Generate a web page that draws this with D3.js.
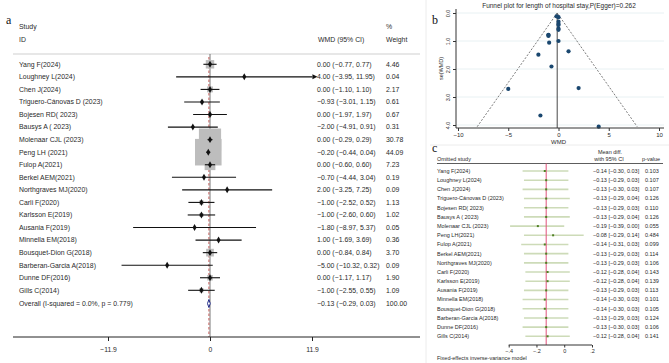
<!DOCTYPE html>
<html>
<head>
<meta charset="utf-8">
<script src="https://cdn.jsdelivr.net/npm/d3@7"></script>
<style>
  body { margin: 0; background: #fff; }
  svg { display: block; font-family: "Liberation Sans", Arial, sans-serif; }
</style>
</head>
<body>
<svg id="chart" width="669" height="363"></svg>
<script>
// panel a: forest plot
const studies = ["Yang F(2024)", "Loughney L(2024)", "Chen J(2024)", "Triguero-Cánovas D (2023)",
  "Bojesen RD( 2023)", "Bausys A ( 2023)", "Molenaar CJL (2023)", "Peng LH (2021)", "Fulop A(2021)",
  "Berkel AEM(2021)", "Northgraves MJ(2020)", "Carli F(2020)", "Karlsson E(2019)", "Ausania F(2019)",
  "Minnella EM(2018)", "Bousquet-Dion G(2018)", "Barberan-Garcia A(2018)", "Dunne DF(2016)", "Gills C(2014)"];
const wmd = [0.00, 4.00, 0.00, -0.93, 0.00, -2.00, 0.00, -0.20, 0.00, -0.70, 2.00, -1.00, -1.00, -1.80, 1.00, 0.00, -5.00, 0.00, -1.00];
const lower = [-0.77, -3.95, -1.10, -3.01, -1.97, -4.91, -0.29, -0.44, -0.60, -4.44, -3.25, -2.52, -2.60, -8.97, -1.69, -0.84, -10.32, -1.17, -2.55];
const upper = [0.77, 11.95, 1.10, 1.15, 1.97, 0.91, 0.29, 0.04, 0.60, 3.04, 7.25, 0.52, 0.60, 5.37, 3.69, 0.84, 0.32, 1.17, 0.55];
const weights = [4.46, 0.04, 2.17, 0.61, 0.67, 0.31, 30.78, 44.09, 7.23, 0.19, 0.09, 1.13, 1.02, 0.05, 0.36, 3.70, 0.09, 1.90, 1.09];
const overallLabel = "Overall  (I-squared = 0.0%, p = 0.779)";
const overall = [-0.13, -0.29, 0.03];
const overallWeight = 100.00;
const forestTicks = [-11.9, 0, 11.9];

// panel b: funnel plot
const funnelWmd = [0.00, 4.00, 0.00, -0.93, 0.00, -2.00, 0.00, -0.20, 0.00, -0.70, 2.00, -1.00, -1.00, -1.80, 1.00, 0.00, -5.00, 0.00, -1.00];
const funnelSe = [0.39, 4.06, 0.56, 1.06, 1.00, 1.49, 0.15, 0.12, 0.31, 1.91, 2.68, 0.78, 0.82, 3.66, 1.37, 0.43, 2.71, 0.60, 0.79];
const funnelXTicks = [-10, -5, 0, 5, 10];
const funnelYTicks = [0, 1, 2, 3, 4];

// panel c: leave-one-out
const omitStudies = ["Yang F(2024)", "Loughney L(2024)", "Chen J(2024)", "Triguero-Cánovas D (2023)",
  "Bojesen RD( 2023)", "Bausys A ( 2023)", "Molenaar CJL (2023)", "Peng LH(2021)", "Fulop A(2021)",
  "Berkel AEM(2021)", "Northgraves MJ(2020)", "Carli F(2020)", "Karlsson E(2019)", "Ausania F(2019)",
  "Minnella EM(2018)", "Bousquet-Dion G(2018)", "Barberan-Garcia A(2018)", "Dunne DF(2016)", "Gills C(2014)"];
const omitMean = [-0.14, -0.13, -0.13, -0.13, -0.13, -0.13, -0.19, -0.08, -0.14, -0.13, -0.13, -0.12, -0.12, -0.13, -0.14, -0.14, -0.13, -0.13, -0.12];
const omitLower = [-0.30, -0.29, -0.30, -0.29, -0.29, -0.29, -0.39, -0.29, -0.31, -0.29, -0.29, -0.28, -0.28, -0.29, -0.30, -0.30, -0.29, -0.30, -0.28];
const omitUpper = [0.03, 0.03, 0.03, 0.04, 0.03, 0.04, 0.00, 0.14, 0.03, 0.03, 0.03, 0.04, 0.04, 0.03, 0.03, 0.03, 0.03, 0.03, 0.04];
const omitP = [0.103, 0.107, 0.107, 0.126, 0.110, 0.126, 0.055, 0.484, 0.099, 0.114, 0.106, 0.143, 0.139, 0.113, 0.101, 0.105, 0.124, 0.106, 0.141];
const omitTicks = [-0.4, -0.2, 0, 0.2];

const svg = d3.select("#chart");
const f2 = d3.format(".2f");
const txt = "#2a2a2a";

// ---------- panel a ----------
function drawForest() {
    const g = svg.append("g");
    const x = d3.scaleLinear().domain([-11.9, 11.9]).range([108, 312]);
    const y = d3.scalePoint().domain(studies).range([64.3, 290.3]);
    const overallY = 303.5;
    const top = 54, bottom = 337, left = 13, right = 420;
    const fs = 6.9;

    g.append("text").attr("x", 6).attr("y", 24).text("a")
        .style("font-family", "'Liberation Serif', serif").style("font-size", "12px").attr("fill", "#111");

    const head = [["Study", 19, 27, "start"], ["ID", 19, 40, "start"], ["WMD (95% CI)", 318, 40, "start"],
                  ["%", 386, 27, "start"], ["Weight", 386, 40, "start"]];
    head.forEach(h => {
        g.append("text").attr("x", h[1]).attr("y", h[2]).attr("dy", "0.35em").attr("text-anchor", h[3])
            .style("font-size", fs + "px").attr("fill", txt).text(h[0]);
    });

    g.append("line").attr("x1", left).attr("x2", right).attr("y1", top).attr("y2", top)
        .attr("stroke", "#cfcfcf").attr("stroke-width", 1);

    // null line and overall dashed line
    g.append("line").attr("x1", x(0)).attr("x2", x(0)).attr("y1", top).attr("y2", bottom)
        .attr("stroke", "#555").attr("stroke-width", 0.8);
    g.append("line").attr("x1", x(overall[0])).attr("x2", x(overall[0])).attr("y1", top + 3).attr("y2", bottom)
        .attr("stroke", "#c0504d").attr("stroke-width", 0.9).attr("stroke-dasharray", "2.5,2");

    // weight boxes
    studies.forEach((s, i) => {
        const side = 4 * Math.sqrt(weights[i]);
        g.append("rect").attr("x", x(wmd[i]) - side / 2).attr("y", y(s) - side / 2)
            .attr("width", side).attr("height", side).attr("fill", "#bdbdbd");
    });

    const xMax = x.domain()[1];
    studies.forEach((s, i) => {
        const yy = y(s);
        const hi = Math.min(upper[i], xMax + 0.05);
        g.append("line").attr("x1", x(lower[i])).attr("x2", x(hi)).attr("y1", yy).attr("y2", yy)
            .attr("stroke", "#111").attr("stroke-width", 1.1);
        if (upper[i] > xMax) {
            const ex = x(hi);
            g.append("path").attr("d", `M${ex},${yy - 2.5}L${ex + 5},${yy}L${ex},${yy + 2.5}Z`).attr("fill", "#111");
        }
        g.append("path").attr("d", d3.symbol(d3.symbolDiamond, 14)()).attr("transform", `translate(${x(wmd[i])},${yy})`)
            .attr("fill", "#111");

        g.append("text").attr("x", 19).attr("y", yy).attr("dy", "0.35em").style("font-size", fs + "px")
            .attr("fill", txt).text(s);
        g.append("text").attr("x", 317).attr("y", yy).attr("dy", "0.35em").style("font-size", fs + "px")
            .attr("fill", txt).text(`${f2(wmd[i])} (${f2(lower[i])}, ${f2(upper[i])})`);
        g.append("text").attr("x", 386).attr("y", yy).attr("dy", "0.35em").style("font-size", fs + "px")
            .attr("fill", txt).text(f2(weights[i]));
    });

    // overall diamond
    const dh = 4;
    g.append("path")
        .attr("d", `M${x(overall[1])},${overallY}L${x(overall[0])},${overallY - dh}L${x(overall[2])},${overallY}L${x(overall[0])},${overallY + dh}Z`)
        .attr("fill", "#fff").attr("stroke", "#1f2a8a").attr("stroke-width", 1);
    g.append("text").attr("x", 19).attr("y", overallY).attr("dy", "0.35em").style("font-size", fs + "px")
        .attr("fill", txt).text(overallLabel);
    g.append("text").attr("x", 317).attr("y", overallY).attr("dy", "0.35em").style("font-size", fs + "px")
        .attr("fill", txt).text(`${f2(overall[0])} (${f2(overall[1])}, ${f2(overall[2])})`);
    g.append("text").attr("x", 386).attr("y", overallY).attr("dy", "0.35em").style("font-size", fs + "px")
        .attr("fill", txt).text(f2(overallWeight));

    // axis
    g.append("line").attr("x1", left).attr("x2", right).attr("y1", bottom).attr("y2", bottom)
        .attr("stroke", "#222").attr("stroke-width", 1);
    const ax = g.append("g").attr("transform", `translate(0,${bottom})`)
        .call(d3.axisBottom(x).tickValues(forestTicks).tickSize(4).tickPadding(6)
            .tickFormat(d => d === 0 ? "0" : d3.format(".1f")(d)));
    ax.select(".domain").remove();
    ax.selectAll("line").attr("stroke", "#222");
    ax.selectAll("text").style("font-size", "6.8px").attr("fill", txt).style("font-family", "'Liberation Sans', Arial, sans-serif");
}

// ---------- panel b ----------
function drawFunnel() {
    const g = svg.append("g");
    const x = d3.scaleLinear().domain([-10, 10]).range([458, 659]);
    const y = d3.scaleLinear().domain([0, 4]).range([13, 125]);
    const plotL = 456, plotR = 664, plotT = 9, plotB = 128;
    const pooled = overall[0];
    const maxSe = d3.max(funnelSe);

    g.append("line").attr("x1", 426).attr("x2", 426).attr("y1", 0).attr("y2", 363)
        .attr("stroke", "#ececec").attr("stroke-width", 1);

    g.append("text").attr("x", 432).attr("y", 24).text("b")
        .style("font-family", "'Liberation Serif', serif").style("font-size", "12px").attr("fill", "#111");

    g.append("text").attr("x", 559).attr("y", 6).attr("dy", "0.35em").attr("text-anchor", "middle")
        .style("font-size", "6.5px").attr("fill", txt).text("Funnel plot for length of hospital stay,P(Egger)=0.262");

    funnelYTicks.forEach(t => {
        g.append("line").attr("x1", plotL).attr("x2", plotR).attr("y1", y(t)).attr("y2", y(t))
            .attr("stroke", "#e2eef0").attr("stroke-width", 0.8);
    });

    // funnel limits
    g.append("path")
        .attr("d", `M${x(pooled - 1.96 * maxSe)},${y(maxSe)}L${x(pooled)},${y(0)}L${x(pooled + 1.96 * maxSe)},${y(maxSe)}`)
        .attr("fill", "none").attr("stroke", "#444").attr("stroke-width", 0.7).attr("stroke-dasharray", "2,1.6");
    g.append("line").attr("x1", x(pooled)).attr("x2", x(pooled)).attr("y1", y(0)).attr("y2", plotB)
        .attr("stroke", "#333").attr("stroke-width", 0.9);

    funnelWmd.forEach((v, i) => {
        g.append("circle").attr("cx", x(v)).attr("cy", y(funnelSe[i])).attr("r", 2.1).attr("fill", "#1a476f");
    });

    // axes
    const ay = g.append("g").attr("transform", `translate(${plotL},0)`)
        .call(d3.axisLeft(y).tickValues(funnelYTicks).tickSize(3).tickPadding(3));
    ay.select(".domain").attr("d", `M0,${plotT}V${plotB}`).attr("stroke", "#333");
    ay.selectAll("line").attr("stroke", "#333");
    ay.selectAll("text").style("font-size", "5.5px").attr("fill", txt)
        .attr("transform", "rotate(-90)").attr("x", 0).attr("y", -6).attr("dy", 0)
        .attr("text-anchor", "middle");

    const axb = g.append("g").attr("transform", `translate(0,${plotB})`)
        .call(d3.axisBottom(x).tickValues(funnelXTicks).tickSize(3).tickPadding(2));
    axb.select(".domain").attr("d", `M${plotL},0H${plotR}`).attr("stroke", "#333");
    axb.selectAll("line").attr("stroke", "#333");
    axb.selectAll("text").style("font-size", "6px").attr("fill", txt);

    g.append("text").attr("x", x(0)).attr("y", 142).attr("dy", "0.35em").attr("text-anchor", "middle")
        .style("font-size", "6px").attr("fill", txt).text("WMD");
    g.append("text").attr("transform", `translate(441,${(plotT + plotB) / 2}) rotate(-90)`)
        .attr("text-anchor", "middle").attr("dy", "0.35em")
        .style("font-size", "5.5px").attr("fill", txt).text("se(WMD)");
}

// ---------- panel c ----------
function drawInfluence() {
    const g = svg.append("g");
    const x = d3.scaleLinear().domain([-0.4, 0.2]).range([508.7, 592]);
    const y = d3.scalePoint().domain(omitStudies).range([171, 336.3]);
    const top = 163.5, axisY = 345;
    const fs = 5.5;

    g.append("line").attr("x1", 430).attr("x2", 669).attr("y1", 145).attr("y2", 145)
        .attr("stroke", "#ececec").attr("stroke-width", 1);

    g.append("text").attr("x", 432).attr("y", 152).text("c")
        .style("font-family", "'Liberation Serif', serif").style("font-size", "12px").attr("fill", "#111");

    g.append("text").attr("x", 437).attr("y", 159).attr("dy", "0.35em").style("font-size", fs + "px")
        .attr("fill", txt).text("Omitted study");
    g.append("text").attr("x", 610).attr("y", 152).attr("dy", "0.35em").attr("text-anchor", "middle")
        .style("font-size", fs + "px").attr("fill", txt).text("Mean diff.");
    g.append("text").attr("x", 609).attr("y", 159).attr("dy", "0.35em").attr("text-anchor", "middle")
        .style("font-size", fs + "px").attr("fill", txt).text("with 95% CI");
    g.append("text").attr("x", 642).attr("y", 159).attr("dy", "0.35em")
        .style("font-size", fs + "px").attr("fill", txt).text("p-value");
    g.append("line").attr("x1", 437).attr("x2", 663).attr("y1", top).attr("y2", top)
        .attr("stroke", "#333").attr("stroke-width", 0.8);

    omitStudies.forEach((s, i) => {
        const yy = y(s);
        g.append("line").attr("x1", x(omitLower[i])).attr("x2", x(omitUpper[i])).attr("y1", yy).attr("y2", yy)
            .attr("stroke", "#cddbb8").attr("stroke-width", 1.6);
    });

    g.append("line").attr("x1", x(overall[0])).attr("x2", x(overall[0])).attr("y1", top).attr("y2", axisY)
        .attr("stroke", "#e0507a").attr("stroke-width", 1);

    omitStudies.forEach((s, i) => {
        const yy = y(s);
        g.append("rect").attr("x", x(omitMean[i]) - 1).attr("y", yy - 1).attr("width", 2).attr("height", 2)
            .attr("fill", "#4d7f22");
        g.append("text").attr("x", 437).attr("y", yy).attr("dy", "0.35em").style("font-size", fs + "px")
            .attr("fill", txt).text(s);
        g.append("text").attr("x", 593).attr("y", yy).attr("dy", "0.35em").style("font-size", fs + "px")
            .attr("fill", txt).text(`${f2(omitMean[i])} [${f2(omitLower[i])}, ${f2(omitUpper[i])}]`);
        g.append("text").attr("x", 645).attr("y", yy).attr("dy", "0.35em").style("font-size", fs + "px")
            .attr("fill", txt).text(d3.format(".3f")(omitP[i]));
    });

    const ax = g.append("g").attr("transform", `translate(0,${axisY})`)
        .call(d3.axisBottom(x).tickValues(omitTicks).tickSize(2.5).tickPadding(1.5)
            .tickFormat(d => d === 0 ? "0" : d3.format(".1f")(d).replace("0.", ".")));
    ax.select(".domain").attr("stroke", "#333").attr("d", `M${x(-0.4)},0H${x(0.2)}`);
    ax.selectAll("line").attr("stroke", "#333");
    ax.selectAll("text").style("font-size", fs + "px").attr("fill", txt);

    g.append("text").attr("x", 437).attr("y", 358).attr("dy", "0.35em").style("font-size", fs + "px")
        .attr("fill", txt).text("Fixed-effects inverse-variance model");
}

drawForest();
drawFunnel();
drawInfluence();
</script>
</body>
</html>
